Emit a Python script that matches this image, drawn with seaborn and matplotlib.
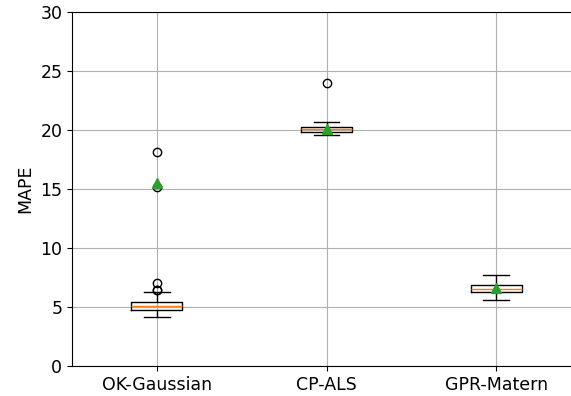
import numpy as np
import matplotlib
matplotlib.use("Agg")
import matplotlib.pyplot as plt
import seaborn as sns
import pandas as pd

#---values (one hidden outlier above 30 pulls the OK-Gaussian mean up)
methods = ["OK-Gaussian", "CP-ALS", "GPR-Matern"]

ok_gaussian = [4.15, 4.3, 4.4, 4.5, 4.55, 4.6, 4.65, 4.7, 4.73, 4.76,
               4.79, 4.82, 4.85, 4.88, 4.9, 4.93, 4.96, 4.99, 5.02, 5.04,
               5.08, 5.1, 5.14, 5.18, 5.22, 5.26, 5.3, 5.34, 5.37, 5.4,
               5.48, 5.6, 5.85, 6.25, 6.42, 6.46, 7.03, 15.2, 18.1, 396.7]

cp_als = [19.59, 19.6, 19.61, 19.62, 19.63, 19.65, 19.7, 19.75, 19.8, 19.84,
          19.86, 19.87, 19.88, 19.89, 19.9, 19.92, 19.95, 19.98, 20.01, 20.04,
          20.06, 20.07, 20.08, 20.09, 20.1, 20.11, 20.13, 20.16, 20.22, 20.28,
          20.32, 20.33, 20.34, 20.35, 20.36, 20.38, 20.4, 20.5, 20.68, 24.0]

gpr_matern = [5.63, 5.76, 5.86, 5.94, 6.01, 6.07, 6.12, 6.17, 6.21, 6.24,
              6.26, 6.29, 6.32, 6.35, 6.38, 6.41, 6.45, 6.49, 6.52, 6.55,
              6.57, 6.6, 6.63, 6.66, 6.69, 6.73, 6.77, 6.81, 6.85, 6.89,
              6.93, 6.99, 7.07, 7.15, 7.23, 7.31, 7.41, 7.51, 7.61, 7.71]

y_ticks = [0, 5, 10, 15, 20, 25, 30]

df = pd.DataFrame({
    'method': np.repeat(methods, [len(ok_gaussian), len(cp_als), len(gpr_matern)]),
    'MAPE': ok_gaussian + cp_als + gpr_matern,
})

fig = plt.figure(figsize=(5.71, 3.96), dpi=100)
# axes runs past the right edge, the reference is cropped there
ax = fig.add_axes([72 / 571, 30 / 396, 509 / 571, 354 / 396])

sns.boxplot(data=df, x='method', y='MAPE', order=methods, ax=ax,
            width=0.3, fill=False, color='black', linewidth=1,
            boxprops=dict(color='black'),
            whiskerprops=dict(color='black'),
            capprops=dict(color='black'),
            medianprops=dict(color='#ff7f0e', linewidth=1),
            flierprops=dict(marker='o', markerfacecolor='none',
                            markeredgecolor='black', markersize=6),
            showmeans=True,
            meanprops=dict(marker='^', markerfacecolor='#2ca02c',
                           markeredgecolor='#2ca02c', markersize=7, zorder=4))

ax.set_ylim(0, 30)
ax.set_yticks(y_ticks)
ax.set_xlim(-0.5, 2.5)
ax.set_xlabel('')
ax.set_ylabel('MAPE', fontsize=12.5)
ax.tick_params(labelsize=12.5)
ax.grid(True, color='#b0b0b0', linewidth=0.8)

fig.savefig('out.png', dpi=100)
